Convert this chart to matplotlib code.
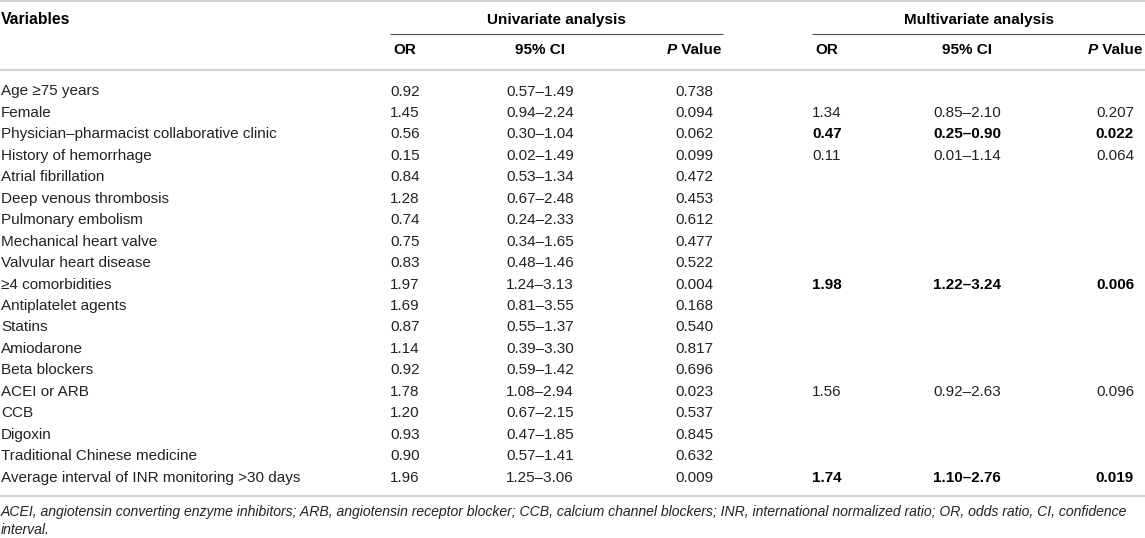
import matplotlib
matplotlib.use("Agg")
import matplotlib.pyplot as plt

plt.rcParams['font.family'] = ['Liberation Sans', 'DejaVu Sans']

variables = [
    "Age \u226575 years", "Female", "Physician\u2013pharmacist collaborative clinic",
    "History of hemorrhage", "Atrial fibrillation", "Deep venous thrombosis",
    "Pulmonary embolism", "Mechanical heart valve", "Valvular heart disease",
    "\u22654 comorbidities", "Antiplatelet agents", "Statins", "Amiodarone",
    "Beta blockers", "ACEI or ARB", "CCB", "Digoxin",
    "Traditional Chinese medicine", "Average interval of INR monitoring >30 days",
]
uni_or = ["0.92", "1.45", "0.56", "0.15", "0.84", "1.28", "0.74", "0.75", "0.83",
          "1.97", "1.69", "0.87", "1.14", "0.92", "1.78", "1.20", "0.93", "0.90", "1.96"]
uni_ci = ["0.57\u20131.49", "0.94\u20132.24", "0.30\u20131.04", "0.02\u20131.49",
          "0.53\u20131.34", "0.67\u20132.48", "0.24\u20132.33", "0.34\u20131.65",
          "0.48\u20131.46", "1.24\u20133.13", "0.81\u20133.55", "0.55\u20131.37",
          "0.39\u20133.30", "0.59\u20131.42", "1.08\u20132.94", "0.67\u20132.15",
          "0.47\u20131.85", "0.57\u20131.41", "1.25\u20133.06"]
uni_p = ["0.738", "0.094", "0.062", "0.099", "0.472", "0.453", "0.612", "0.477",
         "0.522", "0.004", "0.168", "0.540", "0.817", "0.696", "0.023", "0.537",
         "0.845", "0.632", "0.009"]
# multivariate: row index -> (OR, CI, P, bold)
multi_rows = {
    1: ("1.34", "0.85\u20132.10", "0.207", False),
    2: ("0.47", "0.25\u20130.90", "0.022", True),
    3: ("0.11", "0.01\u20131.14", "0.064", False),
    9: ("1.98", "1.22\u20133.24", "0.006", True),
    14: ("1.56", "0.92\u20132.63", "0.096", False),
    18: ("1.74", "1.10\u20132.76", "0.019", True),
}
footnote = ["ACEI, angiotensin converting enzyme inhibitors; ARB, angiotensin receptor blocker; "
            "CCB, calcium channel blockers; INR, international normalized ratio; OR, odds ratio, CI, confidence",
            "interval."]

W, H = 1145, 538
fig = plt.figure(figsize=(W / 100, H / 100), dpi=100)
ax = fig.add_axes([0, 0, 1, 1])
ax.set_xlim(0, W)
ax.set_ylim(H, 0)
ax.axis('off')

PX = 0.72
FS = 11
TXT = '#222222'
GREY = '#d2d2d2'

col_x = {'var': 1, 'uor': 405, 'uci': 540, 'up': 694, 'mor': 827, 'mci': 967, 'mp': 1115}
y_head, y_sub = 20, 50
y_row0, row_h = 91.5, 21.45

# lines
ax.plot([0, W], [1, 1], color=GREY, lw=2 * PX, solid_capstyle='butt')
ax.plot([390, 723], [34, 34], color='#555555', lw=1.2 * PX, solid_capstyle='butt')
ax.plot([812, W], [34, 34], color='#555555', lw=1.2 * PX, solid_capstyle='butt')
ax.plot([0, W], [70, 70], color=GREY, lw=2.2 * PX, solid_capstyle='butt')
y_last = y_row0 + row_h * (len(variables) - 1)
ax.plot([0, W], [y_last + 18, y_last + 18], color=GREY, lw=2.2 * PX, solid_capstyle='butt')

# headers
ax.text(col_x['var'], y_head, "Variables", fontsize=FS * 1.03, fontweight='bold', color='black', va='center', ha='left')
ax.text((390 + 723) / 2, y_head, "Univariate analysis", fontsize=FS, fontweight='bold', color='black', va='center', ha='center')
ax.text((812 + W) / 2, y_head, "Multivariate analysis", fontsize=FS, fontweight='bold', color='black', va='center', ha='center')
for key in ('uor', 'mor'):
    ax.text(col_x[key], y_sub, "OR", fontsize=FS, fontweight='bold', color='black', va='center', ha='center')
for key in ('uci', 'mci'):
    ax.text(col_x[key], y_sub, "95% CI", fontsize=FS, fontweight='bold', color='black', va='center', ha='center')

renderer = fig.canvas.get_renderer()
def width_px(s, **kw):
    t = ax.text(0, 0, s, fontsize=FS, **kw)
    w = t.get_window_extent(renderer).width
    t.remove()
    return w

wp = width_px("P", fontweight='bold', fontstyle='italic')
wv = width_px(" Value", fontweight='bold')
for key in ('up', 'mp'):
    left = col_x[key] - (wp + wv) / 2
    ax.text(left, y_sub, "P", fontsize=FS, fontweight='bold', fontstyle='italic', color='black', va='center', ha='left')
    ax.text(left + wp, y_sub, " Value", fontsize=FS, fontweight='bold', color='black', va='center', ha='left')

# rows
for i, name in enumerate(variables):
    y = y_row0 + row_h * i
    ax.text(col_x['var'], y, name, fontsize=FS, color=TXT, va='center', ha='left')
    ax.text(col_x['uor'], y, uni_or[i], fontsize=FS, color=TXT, va='center', ha='center')
    ax.text(col_x['uci'], y, uni_ci[i], fontsize=FS, color=TXT, va='center', ha='center')
    ax.text(col_x['up'], y, uni_p[i], fontsize=FS, color=TXT, va='center', ha='center')
    if i in multi_rows:
        o, c, p, b = multi_rows[i]
        kw = dict(fontsize=FS, va='center', ha='center',
                  fontweight='bold' if b else 'normal', color='black' if b else TXT)
        ax.text(col_x['mor'], y, o, **kw)
        ax.text(col_x['mci'], y, c, **kw)
        ax.text(col_x['mp'], y, p, **kw)

# footnote
wf = width_px(footnote[0], fontstyle='italic')
ffs = FS * 1128 / wf
ax.text(1, 512, footnote[0], fontsize=ffs, fontstyle='italic', color=TXT, va='center', ha='left')
ax.text(1, 530, footnote[1], fontsize=ffs, fontstyle='italic', color=TXT, va='center', ha='left')

fig.savefig("out.png", dpi=100)
